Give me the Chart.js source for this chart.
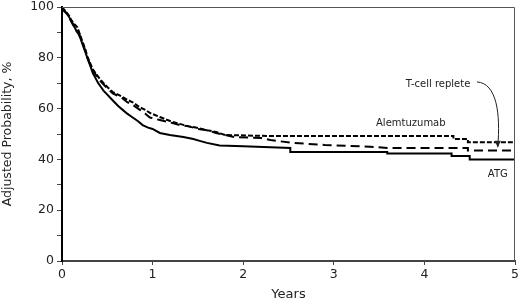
<!DOCTYPE html>
<html>
<head>
<meta charset="utf-8">
<script src="https://cdn.jsdelivr.net/npm/chart.js@4/dist/chart.umd.min.js"></script>
<style>
  html, body { margin: 0; padding: 0; background: #fff; }
  #wrap { width: 520px; height: 302px; }
</style>
</head>
<body>
<div id="wrap"><canvas id="chart" width="520" height="302"></canvas></div>
<script>
// Survival curves (years, adjusted probability %).
// Repeated times mark the vertical drops on the flat late part.
const atgTimes = [0, 0.02, 0.04, 0.06, 0.08, 0.1, 0.12, 0.14, 0.16, 0.18, 0.2, 0.22, 0.24, 0.26, 0.28, 0.3, 0.32, 0.34, 0.37, 0.4, 0.43, 0.46, 0.5, 0.54, 0.58, 0.62, 0.67, 0.72, 0.78, 0.84, 0.89, 0.95, 1.0, 1.08, 1.19, 1.34, 1.45, 1.52, 1.6, 1.74, 2.0, 2.3, 2.52, 2.52, 3.59, 3.59, 4.3, 4.3, 4.5, 4.5, 5];
const atgValues = [100, 99, 98, 97, 96, 94.5, 93, 92, 90.5, 89.5, 88, 86, 84, 82, 80, 78, 76, 74, 72, 70, 68.5, 67, 65.5, 64, 62.5, 61, 59.5, 58, 56.5, 55, 53.5, 52.5, 52, 50.4, 49.6, 48.8, 48, 47.3, 46.5, 45.5, 45.2, 44.8, 44.5, 42.9, 42.9, 42.3, 42.3, 41.3, 41.3, 40, 40];

const alemTimes = [0, 0.02, 0.05, 0.08, 0.1, 0.13, 0.17, 0.2, 0.23, 0.26, 0.28, 0.31, 0.34, 0.38, 0.42, 0.46, 0.5, 0.56, 0.62, 0.67, 0.72, 0.78, 0.86, 0.92, 0.97, 1.08, 1.2, 1.3, 1.4, 1.5, 1.6, 1.7, 1.8, 2.3, 4.32, 4.32, 4.48, 4.48, 5];
const alemValues = [100, 99, 98, 96.5, 95, 93.5, 92, 89, 86, 83, 80.5, 78, 75.5, 73.5, 71.5, 70, 68.5, 66.5, 65.5, 64.5, 63.5, 62.5, 60.5, 59.5, 58.3, 56.7, 55, 54, 53, 52.4, 51.5, 50.8, 49.6, 49.2, 49.2, 48, 48, 46.8, 46.8];

const repleteTimes = [0, 0.02, 0.05, 0.08, 0.1, 0.13, 0.17, 0.2, 0.23, 0.26, 0.28, 0.31, 0.34, 0.38, 0.42, 0.46, 0.5, 0.56, 0.62, 0.67, 0.72, 0.78, 0.86, 0.92, 0.97, 1.08, 1.2, 1.3, 1.4, 1.5, 1.6, 1.7, 1.9, 2.2, 2.3, 2.55, 2.9, 3.4, 3.6, 4.48, 4.48, 5];
const repleteValues = [100, 98.5, 97.5, 96, 94.5, 93, 91.5, 88.5, 85.5, 82.5, 80, 77.5, 75, 73, 71, 69.5, 68, 66, 65, 64, 62.5, 61.5, 59.5, 58, 56.5, 55.5, 54.5, 53.5, 53, 52, 51.5, 50.4, 48.8, 48.4, 47.6, 46.5, 45.7, 45, 44.5, 44.5, 43.5, 43.5];

const yearTicks = [0, 1, 2, 3, 4, 5];
const probLabels = [0, 20, 40, 60, 80, 100];

const pairs = (xs, ys) => xs.map((x, i) => ({ x: x, y: ys[i] }));

const FONT = "'DejaVu Sans', Verdana, sans-serif";

// curve labels placed in data units
const labels = [
  { text: "T-cell replete", x: 4.15, y: 69.7 },
  { text: "Alemtuzumab", x: 3.85, y: 54.3 },
  { text: "ATG", x: 4.81, y: 33.9 }
];
const arrowPath = [[4.58, 70.5], [4.8, 70], [4.84, 58], [4.81, 45]];

const frame = {
  id: "frame",
  afterDraw(chart) {
    const { ctx, chartArea: a, scales } = chart;
    ctx.save();
    ctx.strokeStyle = "#555";
    ctx.lineWidth = 1;
    ctx.beginPath();
    ctx.moveTo(a.left, a.top + 0.5);
    ctx.lineTo(a.right - 0.5, a.top + 0.5);
    ctx.lineTo(a.right - 0.5, a.bottom);
    ctx.stroke();

    ctx.fillStyle = "#222";
    ctx.font = "10px " + FONT;
    ctx.textAlign = "center";
    ctx.textBaseline = "middle";
    labels.forEach(l => {
      ctx.fillText(l.text, scales.x.getPixelForValue(l.x), scales.y.getPixelForValue(l.y));
    });

    const p = arrowPath.map(q => [scales.x.getPixelForValue(q[0]), scales.y.getPixelForValue(q[1])]);
    ctx.strokeStyle = "#222";
    ctx.lineWidth = 1;
    ctx.beginPath();
    ctx.moveTo(p[0][0], p[0][1]);
    ctx.bezierCurveTo(p[1][0], p[1][1], p[2][0], p[2][1], p[3][0], p[3][1]);
    ctx.stroke();
    ctx.beginPath();
    ctx.moveTo(p[3][0], p[3][1] + 1);
    ctx.lineTo(p[3][0] - 3, p[3][1] - 6);
    ctx.lineTo(p[3][0] + 3, p[3][1] - 6);
    ctx.closePath();
    ctx.fillStyle = "#222";
    ctx.fill();
    ctx.restore();
  }
};

const ctx = document.getElementById("chart").getContext("2d");
new Chart(ctx, {
  type: "line",
  data: {
    datasets: [
      { label: "ATG", data: pairs(atgTimes, atgValues), borderColor: "#000", borderWidth: 2, pointRadius: 0, tension: 0, fill: false },
      { label: "Alemtuzumab", data: pairs(alemTimes, alemValues), borderColor: "#000", borderWidth: 2, borderDash: [5, 2], pointRadius: 0, tension: 0, fill: false },
      { label: "T-cell replete", data: pairs(repleteTimes, repleteValues), borderColor: "#000", borderWidth: 2, borderDash: [9, 5], pointRadius: 0, tension: 0, fill: false }
    ]
  },
  options: {
    responsive: false,
    animation: false,
    layout: { padding: { top: 7, right: 5, left: 0, bottom: 0 } },
    plugins: { legend: { display: false }, tooltip: { enabled: false } },
    scales: {
      x: {
        type: "linear",
        min: 0,
        max: 5,
        afterFit: s => { s.height = 41; s.paddingLeft = 0; s.paddingRight = 0; },
        afterBuildTicks: s => { s.ticks = yearTicks.map(v => ({ value: v })); },
        border: { color: "#444", width: 2 },
        grid: { drawOnChartArea: false, drawTicks: true, tickLength: 4, color: "#444" },
        ticks: { color: "#222", font: { family: FONT, size: 12.5 }, padding: 2, maxRotation: 0 },
        title: { display: true, text: "Years", color: "#222", font: { family: FONT, size: 13 }, padding: { top: 0, bottom: 0 } }
      },
      y: {
        min: 0,
        max: 100,
        afterFit: s => { s.width = 62; s.paddingTop = 0; s.paddingBottom = 0; },
        ticks: {
          stepSize: 10,
          color: "#222",
          font: { family: FONT, size: 12.5 },
          padding: 3,
          callback: v => probLabels.includes(v) ? v : ""
        },
        border: { color: "#000", width: 2 },
        grid: { drawOnChartArea: false, drawTicks: true, tickLength: 5, color: "#444" },
        title: { display: true, text: "Adjusted Probability, %", color: "#222", font: { family: FONT, size: 12.5 }, padding: { top: 0, bottom: 0 } }
      }
    }
  },
  plugins: [frame]
});
</script>
</body>
</html>
